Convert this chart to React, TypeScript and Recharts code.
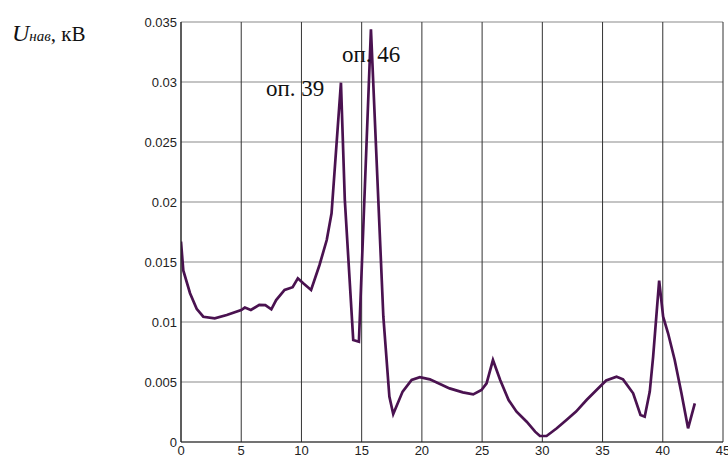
import React from "react";
import { LineChart, Line, XAxis, YAxis, CartesianGrid } from "recharts";

const xs = [0, 0.19, 0.75, 1.3, 1.85, 2.8, 3.8, 5.0, 5.3, 5.8, 6.5, 7.0, 7.5, 7.9, 8.6, 9.27, 9.7, 10.15, 10.8, 11.5, 12.1, 12.5, 13.28, 13.6, 14.3, 14.77, 15.77, 16.8, 17.3, 17.62, 18.4, 19.15, 19.83, 20.66, 22.3, 23.4, 24.26, 24.95, 25.37, 25.9, 26.5, 27.2, 27.86, 28.7, 29.4, 29.8, 30.35, 31.2, 32.0, 32.8, 33.67, 34.5, 35.3, 36.16, 36.7, 37.54, 38.15, 38.5, 38.92, 39.2, 39.7, 40.03, 40.44, 40.99, 41.55, 42.1, 42.66];
const ys = [0.0167, 0.0143, 0.0124, 0.0111, 0.01044, 0.0103, 0.01058, 0.011, 0.0112, 0.011, 0.01142, 0.0114, 0.01106, 0.01183, 0.01267, 0.0129, 0.01364, 0.01322, 0.01267, 0.01475, 0.01683, 0.01906, 0.02994, 0.0202, 0.0085, 0.00836, 0.0344, 0.01044, 0.00378, 0.00233, 0.0042, 0.00517, 0.0054, 0.00522, 0.00447, 0.00414, 0.00397, 0.00433, 0.00489, 0.00683, 0.00517, 0.0035, 0.00253, 0.00169, 0.00086, 0.0005, 0.0005, 0.00114, 0.00183, 0.00253, 0.0035, 0.00433, 0.00513, 0.00544, 0.00522, 0.00406, 0.00225, 0.00211, 0.0042, 0.00711, 0.01344, 0.01044, 0.00906, 0.00683, 0.00406, 0.00114, 0.00322];
const xTicks = [0, 5, 10, 15, 20, 25, 30, 35, 40, 45];
const yTicks = [0, 0.005, 0.01, 0.015, 0.02, 0.025, 0.03, 0.035];
const labels = [
  { text: "оп. 39", left: 266, top: 75 },
  { text: "оп. 46", left: 342, top: 41 },
];

const data = xs.map((x, i) => ({ x, y: ys[i] }));

const tickStyle = { fontFamily: "'Liberation Sans', Arial, sans-serif", fontSize: 13, fill: "#222" };

export default function App() {
  return (
    <div style={{ position: "absolute", left: 0, top: 0, width: 728, height: 459, background: "#fff", overflow: "hidden" }}>
      <LineChart width={728} height={459} data={data} margin={{ top: 22, right: 5, bottom: 0, left: 0 }}>
        <CartesianGrid horizontal={true} vertical={false} stroke="#8a8a8a" strokeWidth={1.2} />
        <CartesianGrid horizontal={false} vertical={true} stroke="#333" strokeWidth={1} />
        <XAxis
          dataKey="x"
          type="number"
          domain={[0, 45]}
          ticks={xTicks}
          interval={0}
          height={17}
          tickLine={false}
          tickSize={0}
          tickMargin={4}
          axisLine={{ stroke: "#222" }}
          tick={tickStyle}
          allowDataOverflow
        />
        <YAxis
          type="number"
          domain={[0, 0.035]}
          ticks={yTicks}
          interval={0}
          width={181}
          tickLine={false}
          tickSize={0}
          tickMargin={4}
          axisLine={{ stroke: "#222" }}
          tick={tickStyle}
          allowDataOverflow
        />
        <Line
          type="linear"
          dataKey="y"
          stroke="#4a1250"
          strokeWidth={2.7}
          dot={false}
          isAnimationActive={false}
        />
      </LineChart>
      <div style={{ position: "absolute", left: 12, top: 20, fontFamily: "'Liberation Serif', 'Times New Roman', serif", fontSize: 22, lineHeight: "26px", color: "#111", whiteSpace: "nowrap" }}>
        <i style={{ fontSize: 24 }}>U</i>
        <i style={{ fontSize: 15 }}>нав</i>
        <span style={{ fontSize: 21 }}>, кВ</span>
      </div>
      {labels.map((l) => (
        <div key={l.text} style={{ position: "absolute", left: l.left, top: l.top, fontFamily: "'Liberation Serif', 'Times New Roman', serif", fontSize: 23, color: "#111", whiteSpace: "nowrap", lineHeight: "28px" }}>
          {l.text}
        </div>
      ))}
    </div>
  );
}
